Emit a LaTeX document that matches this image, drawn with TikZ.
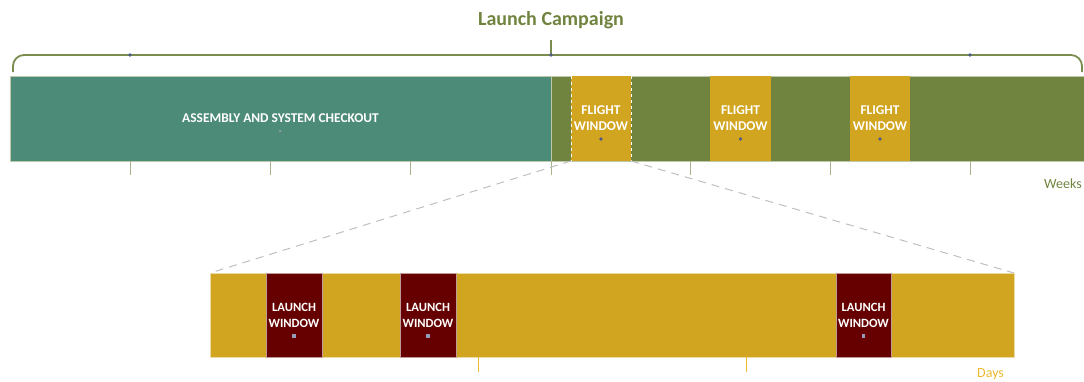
\documentclass[tikz,border=0pt]{standalone}
\usepackage{fontspec}
\setmainfont{Carlito}

\definecolor{fig-color-teal}{RGB}{ 76, 139, 119}
\definecolor{fig-color-olive}{RGB}{113, 132,  63}
\definecolor{fig-color-brace}{RGB}{122, 140,  78}
\definecolor{fig-color-gold}{RGB}{209, 165,  31}
\definecolor{fig-color-days}{RGB}{236, 186,  48}
\definecolor{fig-color-red}{RGB}{102,   0,   0}
\definecolor{fig-color-dash}{RGB}{191, 191, 191}
\definecolor{fig-color-dot}{RGB}{ 80,  90, 135}

\begin{document}
\begin{tikzpicture}[x=1pt, y=-1pt,
    bar/.style={rectangle, inner sep=0, outer sep=0, text=white, align=center,
      font=\fontsize{13.4}{16}\selectfont\bfseries},
    weekbox/.style={bar, minimum height=85, draw=fig-color-olive!45!white, line width=0.6},
    flightbox/.style={bar, fill=fig-color-gold, minimum width=60, minimum height=85},
    launchbox/.style={bar, fill=fig-color-red, minimum width=56, minimum height=84,
      draw=fig-color-red!40!white, line width=0.5, font=\fontsize{12.6}{16}\selectfont\bfseries},
    tick/.style={line width=0.8},
    mark dot/.style={fill=fig-color-dot},
    unit/.style={inner sep=0, font=\fontsize{14}{16}\selectfont}]
    \useasboundingbox (0,0) rectangle (1084,381);

    % title and brace over the whole campaign
    \node[font=\fontsize{20}{24}\selectfont\bfseries, text=fig-color-olive] (title) at (551,20) {Launch Campaign};
    \draw[fig-color-brace, line width=1.8, rounded corners=11] (13,72) -- (13,55) -- (1082,55) -- (1082,72);
    \draw[fig-color-brace, line width=1.8] (551,40) -- (551,55);
    \foreach \x in {130,551,970}
      \fill[mark dot] (\x,55) circle (1.8);

    % weeks bar
    \node[weekbox, fill=fig-color-olive, minimum width=533] (camp) at (817.5,118.5) {};
    \node[weekbox, fill=fig-color-teal, minimum width=541] (asm) at (280.5,118.5) {ASSEMBLY AND SYSTEM CHECKOUT};
    \fill[fig-color-dot!60] (279,130.5) rectangle (281,131.5) (279.5,130) rectangle (280.5,132);

    \node[flightbox] (fw1) at (601,118.5) {FLIGHT\\WINDOW};
    \node[flightbox, minimum width=61] (fw2) at (740.5,118.5) {FLIGHT\\WINDOW};
    \node[flightbox] (fw3) at (880,118.5) {FLIGHT\\WINDOW};
    \draw[white, dashed, line width=0.8] (fw1.north west) -- (fw1.south west)
      (fw1.north east) -- (fw1.south east);
    \foreach \n in {fw1,fw2,fw3}
      \fill[mark dot] (\n.center) ++(0,20.5) circle (1.8);

    \foreach \x in {130,270,410,551,690,830,970}
      \draw[tick, fig-color-olive!60!white] (\x,161) -- (\x,175);
    \node[unit, text=fig-color-olive, anchor=base east] (weeks) at (1082,188) {Weeks};

    % days bar, blown up from the first flight window
    \node[bar, fill=fig-color-gold, minimum width=804, minimum height=84,
      draw=fig-color-gold!40!white, line width=0.5] (days) at (612,315) {};
    \draw[fig-color-dash, line width=1, dash pattern=on 8pt off 6pt] (fw1.south west) -- (days.north west);
    \draw[fig-color-dash, line width=1, dash pattern=on 8pt off 6pt] (fw1.south east) -- (days.north east);

    \node[launchbox] (lw1) at (294,315) {LAUNCH\\WINDOW};
    \node[launchbox] (lw2) at (428,315) {LAUNCH\\WINDOW};
    \node[launchbox, minimum width=55] (lw3) at (863.5,315) {LAUNCH\\WINDOW};
    \foreach \n in {lw1,lw2,lw3}
      \fill[fig-color-dot!60] (\n.center) ++(-1.6,19.4) rectangle ++(3.2,3.2);

    \foreach \x in {478,746}
      \draw[tick, fig-color-days] (\x,357) -- (\x,372);
    \node[unit, text=fig-color-days, anchor=base west] (dayslbl) at (977,377) {Days};
  \end{tikzpicture}
\end{document}
